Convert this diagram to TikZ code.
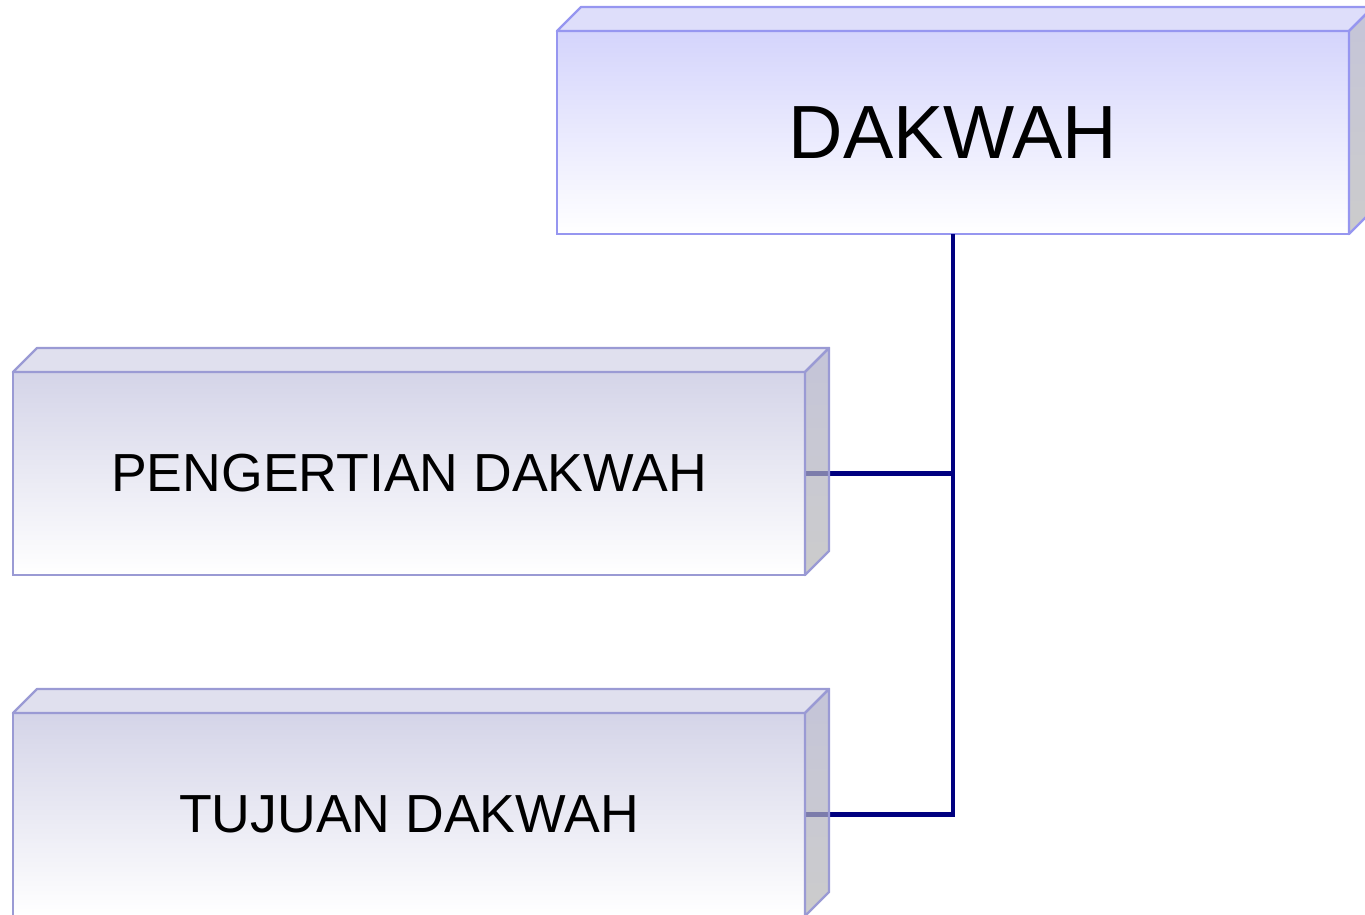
\documentclass[tikz,border=0pt]{standalone}
\usepackage{fontspec}
\setmainfont{Liberation Sans}
\usepackage{tikz}
\usetikzlibrary{calc,positioning}
\definecolor{rimA}{RGB}{150,150,240}
\definecolor{faceA}{RGB}{212,212,252}
\definecolor{lidA}{RGB}{222,222,250}
\definecolor{rimB}{RGB}{154,154,212}
\definecolor{faceB}{RGB}{212,212,232}
\definecolor{lidB}{RGB}{224,224,238}
\definecolor{flankTop}{RGB}{172,172,200}
\definecolor{flankLow}{RGB}{182,182,182}
\definecolor{linkcol}{RGB}{0,0,128}
\newcommand{\Depth}{24}
\tikzset{
  block/.style={line width=1.2pt, inner sep=0pt, outer sep=0pt,
    minimum width=396pt, minimum height=101.5pt},
  blockA/.style={block, draw=rimA, top color=faceA, middle color=faceA!88!white, bottom color=white},
  blockB/.style={block, draw=rimB, top color=faceB, middle color=faceB!88!white, bottom color=white},
  bigtext/.style={font=\fontsize{37.7}{45}\selectfont},
  subtext/.style={font=\fontsize{26.8}{32}\selectfont},
  linkline/.style={draw=linkcol, line width=2.4pt}
}
% lid and flank of a block, offset up-right
\newcommand{\DrawLid}[3]{%
  \filldraw[fill=#2, draw=#3, line width=1.2pt, line join=round]
    (#1.north west) -- ++(\Depth,-\Depth) -- ($(#1.north east)+(\Depth,-\Depth)$)
    -- (#1.north east) -- cycle;
  \shade[top color=flankTop, bottom color=flankLow, fill opacity=0.7]
    (#1.north east) -- ++(\Depth,-\Depth) -- ($(#1.south east)+(\Depth,-\Depth)$)
    -- (#1.south east) -- cycle;
  \draw[draw=#3, line width=1.2pt, line join=round]
    (#1.north east) -- ++(\Depth,-\Depth) -- ($(#1.south east)+(\Depth,-\Depth)$)
    -- (#1.south east) -- cycle;
}

\begin{document}
\begin{tikzpicture}[x=0.5pt, y=-0.5pt]
  \useasboundingbox (0,0) rectangle (1365,915);
  \clip (0,0) rectangle (1365,915);
  % blocks
  \node[blockA, bigtext] (dakwah) at (953,132.5) {DAKWAH};
  \node[blockB, subtext] (pengertian) at (409,473.5) {PENGERTIAN DAKWAH};
  \node[blockB, subtext, below=69pt of pengertian] (tujuan) {TUJUAN DAKWAH};
  % links
  \draw[linkline] (pengertian.east) -| (dakwah.south);
  \draw[linkline] (tujuan.east) -| (dakwah.south);
  % 3d faces
  \DrawLid{dakwah}{lidA}{rimA}
  \DrawLid{pengertian}{lidB}{rimB}
  \DrawLid{tujuan}{lidB}{rimB}
\end{tikzpicture}
\end{document}
